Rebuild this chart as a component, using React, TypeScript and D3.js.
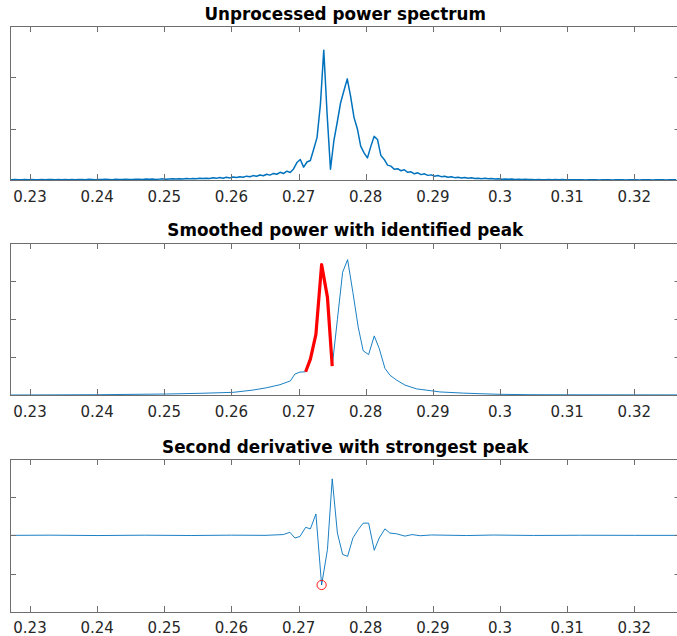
import React from 'react';
import * as d3 from 'd3';

// ---------- data ----------
const xTicks = [0.23, 0.24, 0.25, 0.26, 0.27, 0.28, 0.29, 0.3, 0.31, 0.32];
const xTickLabels = ['0.23', '0.24', '0.25', '0.26', '0.27', '0.28', '0.29', '0.3', '0.31', '0.32'];

const titles = [
  'Unprocessed power spectrum',
  'Smoothed power with identified peak',
  'Second derivative with strongest peak',
];

// raw spectrum: uniform frequency grid
const rawStart = 0.22675;
const rawStep = 0.0005;
const rawPower = [
  0.008, 0.004, 0.010, 0.006, 0.003, 0.009, 0.005, 0.011, 0.004, 0.007,
  0.010, 0.005, 0.008, 0.012, 0.006, 0.009, 0.004, 0.011, 0.007, 0.010,
  0.006, 0.012, 0.008, 0.005, 0.013, 0.009, 0.006, 0.012, 0.008, 0.014,
  0.010, 0.007, 0.015, 0.011, 0.008, 0.016, 0.012, 0.009, 0.017, 0.013,
  0.010, 0.018, 0.013, 0.020, 0.012, 0.017, 0.022, 0.014, 0.019, 0.024,
  0.018, 0.026, 0.020, 0.028, 0.022, 0.030, 0.025, 0.033, 0.027, 0.036,
  0.030, 0.042, 0.032, 0.047, 0.036, 0.052, 0.041, 0.058, 0.047, 0.065,
  0.055, 0.075, 0.062, 0.086, 0.072, 0.098, 0.083, 0.112, 0.095, 0.128,
  0.112, 0.150, 0.126, 0.172, 0.146, 0.215, 0.34, 0.40, 0.25, 0.35,
  0.38, 0.60, 0.83, 1.47, 2.53, 1.28, 0.21, 0.76, 1.12, 1.50,
  1.74, 1.97, 1.63, 1.22, 1.00, 0.66, 0.53, 0.43, 0.65, 0.85,
  0.79, 0.48, 0.40, 0.29, 0.27, 0.21, 0.22, 0.18, 0.20, 0.15,
  0.16, 0.12, 0.14, 0.105, 0.12, 0.09, 0.10, 0.075, 0.088, 0.065,
  0.072, 0.053, 0.063, 0.046, 0.055, 0.040, 0.048, 0.035, 0.042, 0.031,
  0.036, 0.026, 0.032, 0.023, 0.028, 0.019, 0.025, 0.016, 0.021, 0.014,
  0.018, 0.011, 0.016, 0.010, 0.014, 0.008, 0.012, 0.007, 0.011, 0.006,
  0.006, 0.010, 0.005, 0.009, 0.004, 0.008, 0.003, 0.007, 0.004, 0.006,
  0.003, 0.006, 0.002, 0.005, 0.003, 0.006, 0.002, 0.004, 0.003, 0.005,
  0.002, 0.004, 0.003, 0.005, 0.002, 0.004, 0.003, 0.005, 0.002, 0.004,
  0.003, 0.005, 0.002, 0.004, 0.003, 0.005, 0.002, 0.004, 0.003, 0.004,
];

// smoothed power
const smoothFreq = [
  0.2270, 0.24041, 0.25035, 0.25531, 0.26027, 0.26324, 0.26524, 0.26722, 0.26878, 0.26945,
  0.27020, 0.27105, 0.27176, 0.27258, 0.27343, 0.27430, 0.27501, 0.27578, 0.27656, 0.27730,
  0.27809, 0.27888, 0.27962, 0.28043, 0.28127, 0.28201, 0.28286, 0.28360, 0.28460, 0.28584,
  0.28758, 0.28981, 0.29105, 0.29452, 0.29701, 0.29999, 0.30446, 0.31190, 0.32700,
];
const smoothPower = [
  0.0, 0.008, 0.026, 0.044, 0.07, 0.13, 0.19, 0.27, 0.37, 0.55,
  0.60, 0.61, 0.94, 1.59, 3.42, 2.56, 0.76, 1.98, 3.22, 3.55,
  2.69, 1.78, 1.16, 1.06, 1.55, 1.22, 0.70, 0.52, 0.39, 0.26,
  0.16, 0.11, 0.08, 0.05, 0.034, 0.018, 0.008, 0.005, 0.003,
];
// identified peak (red)
const peakFreq = [0.27105, 0.27176, 0.27258, 0.27343, 0.27430, 0.27501];
const peakPower = [0.61, 0.94, 1.59, 3.42, 2.56, 0.76];

// second derivative
const derivFreq = [
  0.2270, 0.2330, 0.2400, 0.2470, 0.2540, 0.2600, 0.2650, 0.26771, 0.26871, 0.26945,
  0.27020, 0.27105, 0.27176, 0.27258, 0.27343, 0.27430, 0.27501, 0.27578, 0.27656, 0.27730,
  0.27809, 0.27888, 0.27962, 0.28043, 0.28127, 0.28201, 0.28286, 0.28360, 0.28460, 0.28584,
  0.28690, 0.28810, 0.28980, 0.2950, 0.2990, 0.3050, 0.3120, 0.3200, 0.3270,
];
const derivValue = [
  0.0, 0.005, -0.005, 0.004, -0.004, 0.005, 0.0, 0.02, 0.08, -0.07,
  -0.03, 0.21, 0.17, 0.56, -1.30, -0.37, 1.48, 0.06, -0.50, -0.55,
  -0.07, 0.15, 0.32, 0.32, -0.39, -0.07, 0.17, 0.06, 0.04, -0.02,
  0.02, -0.01, 0.01, -0.005, 0.008, -0.003, 0.003, 0.0, 0.0,
];
const strongestFreq = 0.27343;
const strongestValue = -1.30;

// ---------- layout ----------
const W = 677;
const H = 636;
const LEFT = 10;
const RIGHT = 680.5;
const panels = [
  { top: 26, bottom: 180, yDomain: [0, 3], yTicks: [0, 1, 2, 3] },
  { top: 242.5, bottom: 395, yDomain: [0, 4], yTicks: [0, 1, 2, 3, 4] },
  { top: 459, bottom: 611.7, yDomain: [-2, 2], yTicks: [-2, -1, 0, 1, 2] },
];

const BLUE = '#0072BD';
const AXIS = '#6e6e6e';
const TEXT = '#262626';
const FONT = '"DejaVu Sans", sans-serif';

const x = d3.scaleLinear().domain([0.22702, 0.32688]).range([LEFT, RIGHT]);

function Panel({ idx, children }: { idx: number; children: (y: d3.ScaleLinear<number, number>) => React.ReactNode }) {
  const p = panels[idx];
  const y = d3.scaleLinear().domain(p.yDomain).range([p.bottom, p.top]);
  const tl = 6;
  return (
    <g>
      <defs>
        <clipPath id={`clip${idx}`}>
          <rect x={LEFT} y={p.top} width={RIGHT - LEFT} height={p.bottom - p.top} />
        </clipPath>
      </defs>
      <g clipPath={`url(#clip${idx})`}>{children(y)}</g>
      <rect x={LEFT + 0.5} y={Math.round(p.top) + 0.5} width={RIGHT - LEFT} height={Math.round(p.bottom) - Math.round(p.top)}
        fill="none" stroke={AXIS} strokeWidth={1} />
      {xTicks.map((t, i) => {
        const xx = Math.round(x(t)) + 0.5;
        return (
          <g key={i}>
            <line x1={xx} x2={xx} y1={Math.round(p.bottom)} y2={Math.round(p.bottom) - tl} stroke={AXIS} strokeWidth={1} />
            <line x1={xx} x2={xx} y1={Math.round(p.top)} y2={Math.round(p.top) + tl} stroke={AXIS} strokeWidth={1} />
            <text x={x(t)} y={p.bottom + 21.5} textAnchor="middle" fontFamily={FONT} fontSize={15} fill={TEXT}>
              {xTickLabels[i]}
            </text>
          </g>
        );
      })}
      {p.yTicks.map((t, i) => {
        const yy = Math.round(y(t)) + 0.5;
        return (
          <g key={i}>
            <line x1={LEFT} x2={LEFT + tl} y1={yy} y2={yy} stroke={AXIS} strokeWidth={1} />
            <line x1={RIGHT} x2={RIGHT - tl} y1={yy} y2={yy} stroke={AXIS} strokeWidth={1} />
          </g>
        );
      })}
      <text x={(LEFT + RIGHT) / 2} y={p.top - 6.5} textAnchor="middle" fontFamily={FONT} fontWeight="bold" fontSize={16.8} fill="#000">
        {titles[idx]}
      </text>
    </g>
  );
}

export default function App() {
  const rawData = rawPower.map((v, i) => [rawStart + rawStep * i, v] as [number, number]);
  const smoothData = smoothFreq.map((f, i) => [f, smoothPower[i]] as [number, number]);
  const peakData = peakFreq.map((f, i) => [f, peakPower[i]] as [number, number]);
  const derivData = derivFreq.map((f, i) => [f, derivValue[i]] as [number, number]);

  return (
    <svg width={W} height={H} style={{ position: 'absolute', left: 0, top: 0, background: '#fff' }}>
      <rect x={0} y={0} width={W} height={H} fill="#fff" />
      <Panel idx={0}>
        {(y) => {
          const line = d3.line<[number, number]>().x((d) => x(d[0])).y((d) => y(d[1]));
          return <path d={line(rawData) || ''} fill="none" stroke={BLUE} strokeWidth={1.5} strokeLinejoin="round" />;
        }}
      </Panel>
      <Panel idx={1}>
        {(y) => {
          const line = d3.line<[number, number]>().x((d) => x(d[0])).y((d) => y(d[1]));
          return (
            <g>
              <path d={line(smoothData) || ''} fill="none" stroke={BLUE} strokeWidth={0.9} strokeLinejoin="round" />
              <path d={line(peakData) || ''} fill="none" stroke="#ff0000" strokeWidth={3.2} strokeLinejoin="round" />
            </g>
          );
        }}
      </Panel>
      <Panel idx={2}>
        {(y) => {
          const line = d3.line<[number, number]>().x((d) => x(d[0])).y((d) => y(d[1]));
          return (
            <g>
              <path d={line(derivData) || ''} fill="none" stroke={BLUE} strokeWidth={0.9} strokeLinejoin="round" />
              <circle cx={x(strongestFreq)} cy={y(strongestValue)} r={4.6} fill="none" stroke="#ff0000" strokeWidth={0.9} />
            </g>
          );
        }}
      </Panel>
    </svg>
  );
}
